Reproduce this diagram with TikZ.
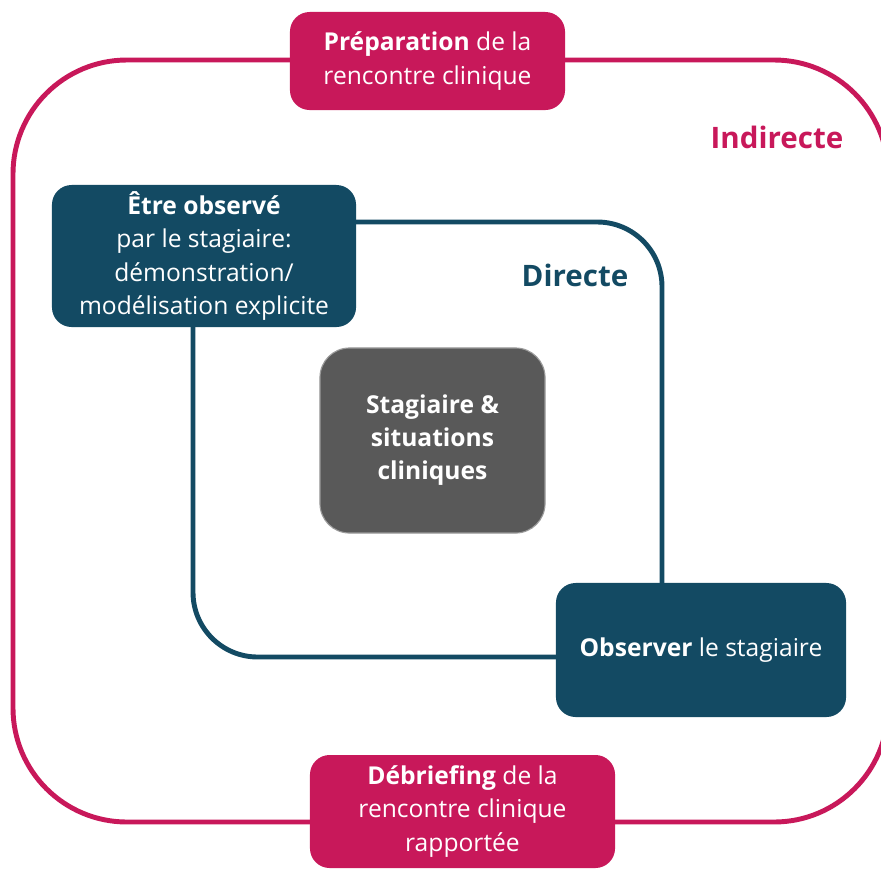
\documentclass[tikz,border=0pt]{standalone}
\usepackage{fontspec}
\setmainfont{Open Sans}
\definecolor{rose}{HTML}{C8185A}
\definecolor{petrole}{HTML}{134A63}
\definecolor{ardoise}{HTML}{595959}
\tikzset{
  boite/.style={rectangle, rounded corners=14pt, align=center, text=white, inner sep=0pt,
    font=\fontsize{17.5}{23.5}\selectfont},
  boiterose/.style={boite, fill=rose},
  boitepetrole/.style={boite, fill=petrole},
  cadre/.style={line width=3.5pt},
  titre/.style={font=\fontsize{21}{24}\selectfont\bfseries}
}
\begin{document}
\begin{tikzpicture}[x=0.025cm, y=-0.025cm]
  \useasboundingbox (0,0) rectangle (881,871);
  \draw [cadre, rose, rounded corners=81pt] (13,60) rectangle (888,822);
  \draw [cadre, petrole, rounded corners=46pt] (193,222) rectangle (662,657);

  \node [boiterose, minimum width=6.875cm, minimum height=2.45cm] (prep) at (427.5,61)
    {\textbf{Préparation} de la\\rencontre clinique};
  \node [boitepetrole, minimum width=7.6cm, minimum height=3.55cm] (etre) at (204,256)
    {\textbf{Être observé}\\par le stagiaire:\\démonstration/\\modélisation explicite};
  \node [boite, fill=ardoise, draw=ardoise!60!white, line width=0.8pt, rounded corners=21pt,
    minimum width=5.625cm, minimum height=4.625cm, font=\fontsize{17.5}{23.5}\selectfont\bfseries]
    (centre) at (432.5,440.5) {Stagiaire \&\\situations\\cliniques};
  \node [boitepetrole, minimum width=7.25cm, minimum height=3.35cm] (observer) at (701,650)
    {\textbf{Observer} le stagiaire};
  \node [boiterose, minimum width=7.625cm, minimum height=2.825cm] (debrief) at (462.5,811.5)
    {\textbf{Débriefing} de la\\rencontre clinique\\rapportée};

  \node [titre, text=rose] (indirecte) at (777,137) {Indirecte};
  \node [titre, text=petrole] (directe) at (575,275) {Directe};
\end{tikzpicture}
\end{document}
